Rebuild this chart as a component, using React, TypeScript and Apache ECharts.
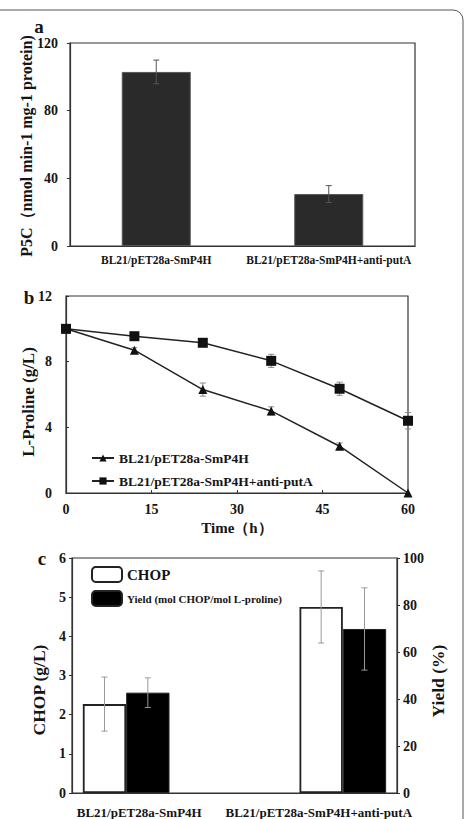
import React, { useEffect, useRef } from "react";
import * as echarts from "echarts";

// Panel a: P5C dehydrogenase activity
const aCategories = ["BL21/pET28a-SmP4H", "BL21/pET28a-SmP4H+anti-putA"];
const aP5C = [102.9, 30.7];
const aP5CErr = [7, 5];
const aYTicks = [0, 40, 80, 120];

// Panel b: L-proline consumption over time
const bTime = [0, 12, 24, 36, 48, 60];
const bSmP4H = [10, 8.7, 6.3, 5.0, 2.85, 0];
const bSmP4HErr = [0, 0.15, 0.4, 0.25, 0.2, 0];
const bAntiPutA = [10, 9.55, 9.15, 8.05, 6.35, 4.4];
const bAntiPutAErr = [0, 0.15, 0.15, 0.4, 0.4, 0.5];
const bXTicks = [0, 15, 30, 45, 60];
const bYTicks = [0, 4, 8, 12];

// Panel c: CHOP titre and molar yield (middle slot is a spacer)
const cSlots = ["BL21/pET28a-SmP4H", "", "BL21/pET28a-SmP4H+anti-putA"];
const cLabels = ["BL21/pET28a-SmP4H", "BL21/pET28a-SmP4H+anti-putA"];
const cChop = [2.27, null, 4.75];
const cChopErr = [0.69, null, 0.92];
const cYield = [42.7, null, 69.8];
const cYieldErr = [6.3, null, 17.5];
const cLeftTicks = [0, 1, 2, 3, 4, 5, 6];
const cRightTicks = [0, 20, 40, 60, 80, 100];

const FONT = "Liberation Serif";
const BORDER = "#333";
const INK = "#151515";

function errorBar(offsetFrac: number, color: string) {
  return (params: any, api: any) => {
    const v = api.value(1);
    const e = api.value(2);
    if (v == null || isNaN(v) || !e) return null;
    const x = api.value(0);
    const band = api.size([1, 0])[0];
    const dx = band * offsetFrac;
    const top = api.coord([x, v + e]);
    const bot = api.coord([x, v - e]);
    const cx = top[0] + dx;
    const cap = 3;
    const style = { stroke: color, lineWidth: 1 };
    return {
      type: "group",
      children: [
        { type: "line", shape: { x1: cx, y1: top[1], x2: cx, y2: bot[1] }, style },
        { type: "line", shape: { x1: cx - cap, y1: top[1], x2: cx + cap, y2: top[1] }, style },
        { type: "line", shape: { x1: cx - cap, y1: bot[1], x2: cx + cap, y2: bot[1] }, style },
      ],
    };
  };
}

const axisLabelStyle = (size: number) => ({
  fontFamily: FONT,
  fontWeight: "bold" as const,
  fontSize: size,
  color: INK,
});

// Vertical axis title drawn as rotated text, reading bottom to top
const axisTitle = (text: string, x: number, y: number, size: number) => ({
  type: "text",
  x,
  y,
  rotation: Math.PI / 2,
  style: {
    text,
    font: `bold ${size}px '${FONT}'`,
    fill: INK,
    align: "center",
    verticalAlign: "middle",
  },
});

const panelLetter = (text: string, x: number, y: number) => ({
  type: "text",
  x,
  y,
  style: { text, font: `bold 19px '${FONT}'`, fill: INK, align: "center", verticalAlign: "middle" },
});

export default function App() {
  const ref = useRef<HTMLDivElement>(null);

  useEffect(() => {
    if (!ref.current) return;
    const chart = echarts.init(ref.current, undefined, { renderer: "svg" });

    const option: any = {
      animation: false,
      backgroundColor: "#fff",
      textStyle: { fontFamily: FONT, fontWeight: "bold" },
      grid: [
        { left: 70, right: 50, top: 43, height: 203, show: true, borderColor: BORDER, borderWidth: 1.2 },
        { left: 66, right: 57, top: 296, height: 197, show: true, borderColor: BORDER, borderWidth: 1.2 },
        { left: 72, right: 68, top: 558, height: 239, show: true, borderColor: BORDER, borderWidth: 1.2 },
      ],
      xAxis: [
        {
          gridIndex: 0,
          type: "category",
          data: aCategories,
          axisLine: { lineStyle: { color: BORDER, width: 1.2 } },
          axisTick: { inside: true, length: 3, lineStyle: { color: BORDER } },
          axisLabel: { ...axisLabelStyle(11.5), margin: 8, interval: 0, hideOverlap: false },
        },
        {
          gridIndex: 1,
          type: "value",
          min: 0,
          max: 60,
          interval: 15,
          name: "Time\uFF08h\uFF09",
          nameLocation: "middle",
          nameGap: 27,
          nameTextStyle: { fontFamily: FONT, fontWeight: "bold", fontSize: 15, color: INK },
          splitLine: { show: false },
          axisLine: { lineStyle: { color: BORDER, width: 1.2 } },
          axisTick: { inside: true, length: 3, lineStyle: { color: BORDER } },
          axisLabel: {
            ...axisLabelStyle(14),
            margin: 9,
            formatter: (v: number) => (bXTicks.includes(v) ? String(v) : ""),
          },
        },
        {
          gridIndex: 2,
          type: "category",
          data: cSlots,
          axisLine: { lineStyle: { color: BORDER, width: 1.2 } },
          axisTick: { show: false },
          axisLabel: { show: false },
        },
        {
          gridIndex: 2,
          type: "category",
          position: "bottom",
          data: cLabels,
          axisLine: { show: false },
          axisTick: { show: false },
          axisLabel: {
            ...axisLabelStyle(13),
            margin: 13,
            interval: 0,
            hideOverlap: false,
            formatter: (v: string, i: number) => (i === 0 ? "{l|" + v + "}" : "{r|" + v + "}"),
            rich: {
              l: { ...axisLabelStyle(13), padding: [0, 28, 0, 0] },
              r: { ...axisLabelStyle(13), padding: [0, 0, 0, 6] },
            },
          },
        },
      ],
      yAxis: [
        {
          gridIndex: 0,
          type: "value",
          min: 0,
          max: 120,
          interval: 40,
          splitLine: { show: false },
          axisLine: { show: true, lineStyle: { color: BORDER, width: 1.2 } },
          axisTick: { show: true, length: 3, lineStyle: { color: BORDER } },
          axisLabel: {
            ...axisLabelStyle(14),
            margin: 12,
            formatter: (v: number) => (aYTicks.includes(v) ? String(v) : ""),
          },
        },
        {
          gridIndex: 1,
          type: "value",
          min: 0,
          max: 12,
          interval: 4,
          splitLine: { show: false },
          axisLine: { show: true, lineStyle: { color: BORDER, width: 1.2 } },
          axisTick: { inside: true, length: 3, lineStyle: { color: BORDER } },
          axisLabel: {
            ...axisLabelStyle(14),
            margin: 14,
            formatter: (v: number) => (bYTicks.includes(v) ? String(v) : ""),
          },
        },
        {
          gridIndex: 2,
          type: "value",
          min: 0,
          max: 6,
          interval: 1,
          splitLine: { show: false },
          axisLine: { show: true, lineStyle: { color: BORDER, width: 1.2 } },
          axisTick: { show: true, length: 3, lineStyle: { color: BORDER } },
          axisLabel: {
            ...axisLabelStyle(14),
            margin: 6,
            formatter: (v: number) => (cLeftTicks.includes(v) ? String(v) : ""),
          },
        },
        {
          gridIndex: 2,
          type: "value",
          position: "right",
          min: 0,
          max: 100,
          interval: 20,
          splitLine: { show: false },
          axisLine: { show: true, lineStyle: { color: BORDER, width: 1.2 } },
          axisTick: { show: true, length: 3, lineStyle: { color: BORDER } },
          axisLabel: {
            ...axisLabelStyle(14),
            margin: 6,
            formatter: (v: number) => (cRightTicks.includes(v) ? String(v) : ""),
          },
        },
      ],
      legend: [
        {
          orient: "vertical",
          left: 86,
          top: 446,
          itemGap: 9,
          itemWidth: 22,
          itemHeight: 9,
          data: ["BL21/pET28a-SmP4H", "BL21/pET28a-SmP4H+anti-putA"],
          textStyle: { fontFamily: FONT, fontWeight: "bold", fontSize: 13.5, color: INK },
        },
        {
          orient: "vertical",
          left: 86,
          top: 561,
          itemGap: 7,
          itemWidth: 30,
          itemHeight: 15,
          data: ["CHOP", "Yield (mol CHOP/mol L-proline)"],
          formatter: (name: string) => (name === "CHOP" ? "{b|" + name + "}" : "{s|" + name + "}"),
          textStyle: {
            fontFamily: FONT,
            fontWeight: "bold",
            color: INK,
            rich: {
              b: { fontFamily: FONT, fontWeight: "bold", fontSize: 15, color: INK },
              s: { fontFamily: FONT, fontWeight: "bold", fontSize: 11, color: INK },
            },
          },
        },
      ],
      series: [
        // a
        {
          name: "P5C",
          type: "bar",
          xAxisIndex: 0,
          yAxisIndex: 0,
          data: aP5C,
          barWidth: "40%",
          itemStyle: { color: "#2a2a2a", borderColor: "#555", borderWidth: 1 },
        },
        {
          name: "P5C error",
          type: "custom",
          xAxisIndex: 0,
          yAxisIndex: 0,
          data: aP5C.map((v, i) => [i, v, aP5CErr[i]]),
          renderItem: errorBar(0, "#555"),
          z: 5,
        },
        // b
        {
          name: "BL21/pET28a-SmP4H",
          type: "line",
          xAxisIndex: 1,
          yAxisIndex: 1,
          data: bTime.map((t, i) => [t, bSmP4H[i]]),
          symbol: "triangle",
          symbolSize: 9,
          lineStyle: { color: "#222", width: 1.5 },
          itemStyle: { color: "#111" },
          z: 3,
        },
        {
          name: "BL21/pET28a-SmP4H+anti-putA",
          type: "line",
          xAxisIndex: 1,
          yAxisIndex: 1,
          data: bTime.map((t, i) => [t, bAntiPutA[i]]),
          symbol: "rect",
          symbolSize: 10,
          lineStyle: { color: "#222", width: 1.5 },
          itemStyle: { color: "#111" },
          z: 3,
        },
        {
          name: "SmP4H error",
          type: "custom",
          xAxisIndex: 1,
          yAxisIndex: 1,
          data: bTime.map((t, i) => [t, bSmP4H[i], bSmP4HErr[i]]),
          renderItem: errorBar(0, "#888"),
          z: 2,
        },
        {
          name: "anti-putA error",
          type: "custom",
          xAxisIndex: 1,
          yAxisIndex: 1,
          data: bTime.map((t, i) => [t, bAntiPutA[i], bAntiPutAErr[i]]),
          renderItem: errorBar(0, "#888"),
          z: 2,
        },
        // c
        {
          name: "CHOP",
          type: "bar",
          xAxisIndex: 2,
          yAxisIndex: 2,
          data: cChop,
          barCategoryGap: "20%",
          barGap: "0%",
          itemStyle: { color: "#fff", borderColor: "#222", borderWidth: 1.8 },
        },
        {
          name: "Yield (mol CHOP/mol L-proline)",
          type: "bar",
          xAxisIndex: 2,
          yAxisIndex: 3,
          data: cYield,
          barCategoryGap: "20%",
          barGap: "0%",
          itemStyle: { color: "#000", borderColor: "#222", borderWidth: 1 },
        },
        {
          name: "CHOP error",
          type: "custom",
          xAxisIndex: 2,
          yAxisIndex: 2,
          data: cChop.map((v, i) => [i, v, cChopErr[i]]),
          renderItem: errorBar(-0.2, "#999"),
          z: 5,
        },
        {
          name: "Yield error",
          type: "custom",
          xAxisIndex: 2,
          yAxisIndex: 3,
          data: cYield.map((v, i) => [i, v, cYieldErr[i]]),
          renderItem: errorBar(0.2, "#999"),
          z: 5,
        },
      ],
      graphic: [
        {
          type: "rect",
          shape: { x: -10, y: 10, width: 473, height: 830, r: 10 },
          style: { fill: "none", stroke: "#555", lineWidth: 1 },
          silent: true,
        },
        panelLetter("a", 39, 26),
        panelLetter("b", 29, 297),
        panelLetter("c", 42, 558),
        axisTitle("P5C\uFF08nmol min-1 mg-1 protein)", 26, 146, 16),
        axisTitle("L-Proline (g/L)", 28, 402, 17),
        axisTitle("CHOP (g/L)", 39, 690, 17.5),
        axisTitle("Yield (%)", 438, 681, 17.5),
      ],
    };

    chart.setOption(option);
    return () => chart.dispose();
  }, []);

  return (
    <div
      ref={ref}
      style={{ position: "fixed", left: 0, top: 0, width: 465, height: 819, background: "#fff" }}
    />
  );
}
